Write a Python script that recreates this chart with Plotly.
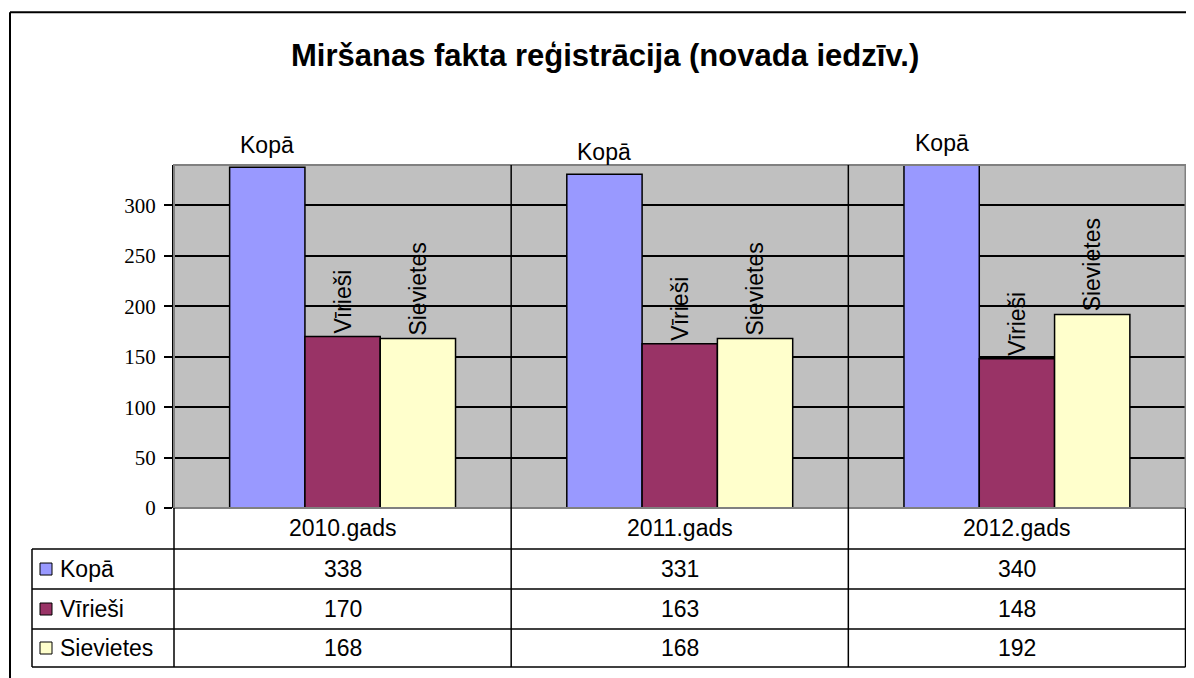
import plotly.graph_objects as go

# ---- data ----
categories = ["2010.gads", "2011.gads", "2012.gads"]
series_names = ["Kopā", "Vīrieši", "Sievietes"]
kopa = [338, 331, 340]
viriesi = [170, 163, 148]
sievietes = [168, 168, 192]
series_values = [kopa, viriesi, sievietes]
series_colors = ["#9999FF", "#993366", "#FFFFCC"]
title_text = "Miršanas fakta reģistrācija (novada iedzīv.)"
y_ticks = [0, 50, 100, 150, 200, 250, 300]

# page has an 8px body margin; compensate observed vertical squeeze of the capture
OFF = 8
SY = 690 / 678
W = 1194 - 2 * OFF
H = 682
def px(x):
    return min(1.0, max(0.0, (x - OFF) / W))
def py(y):
    return min(1.0, max(0.0, 1 - (y * SY - OFF) / H))

SANS = "Liberation Sans, Arial, sans-serif"
SERIF = "Liberation Serif, Times New Roman, serif"
BARGAP = 0.33
RIGHT = 1185.5

fig = go.Figure()
for name, vals, col in zip(series_names, series_values, series_colors):
    is_total = name == "Kopā"
    fig.add_trace(go.Bar(
        x=categories, y=vals, name=name,
        marker=dict(color=col, line=dict(color="black", width=1.5)),
        text=None if is_total else [name] * len(vals),
        textposition="outside", textangle=-90, constraintext="none",
        textfont=dict(family=SANS, size=23, color="black"),
        cliponaxis=False, showlegend=False,
    ))

shapes = []
annotations = []
# "Kopā" labels above the total bars (horizontal)
bar_w = (1 - BARGAP) / len(series_names)
for i, v in enumerate(kopa):
    annotations.append(dict(text="Kopā", xref="x", yref="y",
                            x=i - bar_w, y=v, yanchor="bottom", xanchor="center",
                            yshift=7, showarrow=False,
                            font=dict(family=SANS, size=23, color="black")))

# plot area gray frame
shapes.append(dict(type="rect", xref="paper", yref="paper",
                   x0=px(174), x1=px(RIGHT), y0=py(508), y1=py(165),
                   line=dict(color="#808080", width=2)))
# category separators (through plot and table)
for xb in [0.5, 1.5]:
    shapes.append(dict(type="line", xref="x", yref="paper",
                       x0=xb, x1=xb, y0=py(667), y1=py(165),
                       line=dict(color="black", width=1.5)))
# table verticals
for (xv, ya, yb) in [(174, 508, 667), (RIGHT, 508, 667), (32, 549, 667)]:
    shapes.append(dict(type="line", xref="paper", yref="paper",
                       x0=px(xv), x1=px(xv), y0=py(yb), y1=py(ya),
                       line=dict(color="black", width=1.5)))
# table horizontals
for yh in [549, 589, 629, 667]:
    shapes.append(dict(type="line", xref="paper", yref="paper",
                       x0=px(32), x1=px(RIGHT), y0=py(yh), y1=py(yh),
                       line=dict(color="black", width=1.5)))
# outer frame
shapes.append(dict(type="line", xref="paper", yref="paper",
                   x0=px(10), x1=px(10), y0=0, y1=py(12),
                   line=dict(color="black", width=2)))
shapes.append(dict(type="line", xref="paper", yref="paper",
                   x0=px(10), x1=1, y0=py(12), y1=py(12),
                   line=dict(color="black", width=2)))

row_centers = [569, 609, 648]
# title
annotations.append(dict(text="<b>" + title_text + "</b>", xref="paper", yref="paper",
                        x=px(605), y=py(55), xanchor="center", yanchor="middle",
                        showarrow=False,
                        font=dict(family=SANS, size=31, color="black")))
# header row
for c in categories:
    annotations.append(dict(text=c, xref="x", yref="paper", x=c, y=py(528),
                            xanchor="center", yanchor="middle",
                            showarrow=False, font=dict(family=SANS, size=23, color="black")))
# rows
for name, vals, col, yc in zip(series_names, series_values, series_colors, row_centers):
    shapes.append(dict(type="rect", xref="paper", yref="paper",
                       x0=px(40), x1=px(52), y0=py(yc + 6), y1=py(yc - 6),
                       fillcolor=col, line=dict(color="black", width=1)))
    annotations.append(dict(text=name, xref="paper", yref="paper", x=px(58), y=py(yc),
                            xanchor="left", yanchor="middle", showarrow=False,
                            font=dict(family=SANS, size=23, color="black")))
    for c, v in zip(categories, vals):
        annotations.append(dict(text=str(v), xref="x", yref="paper", x=c, y=py(yc),
                                xanchor="center", yanchor="middle", showarrow=False,
                                font=dict(family=SANS, size=23, color="black")))

fig.update_layout(
    width=W, height=H, autosize=False,
    margin=dict(l=0, r=0, t=0, b=0),
    paper_bgcolor="white", plot_bgcolor="#C0C0C0",
    barmode="group", bargap=BARGAP, bargroupgap=0,
    xaxis=dict(domain=[px(174), px(RIGHT)], showticklabels=False, showgrid=False,
               zeroline=False, showline=False, ticks=""),
    yaxis=dict(domain=[py(508), py(165)], range=[0, 340], tickvals=y_ticks,
               showgrid=True, gridcolor="black", gridwidth=1.5,
               zeroline=False, showline=True, linecolor="black", linewidth=2,
               ticks="outside", ticklen=8, tickcolor="black", tickwidth=1.5,
               tickfont=dict(family=SERIF, size=21, color="black"), ticklabelstandoff=4),
    shapes=shapes, annotations=annotations,
)
fig.write_html("out.html")
